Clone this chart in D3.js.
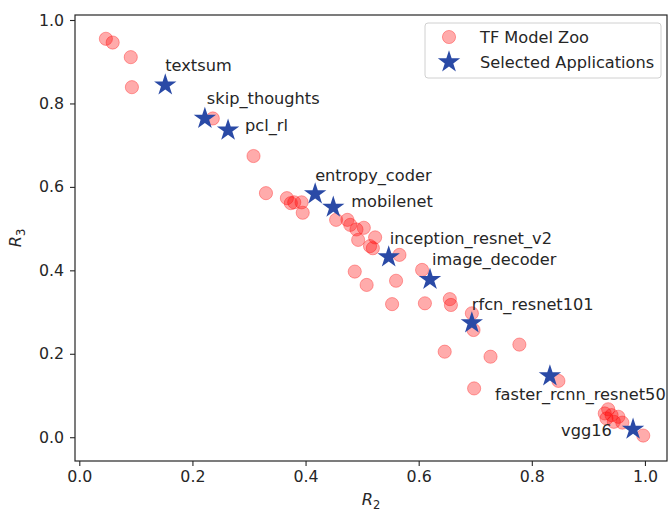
<!DOCTYPE html>
<html>
<head>
<meta charset="utf-8">
<script src="https://cdn.jsdelivr.net/npm/d3@7"></script>
<style>
  html, body { margin: 0; padding: 0; background: #fff; }
  svg { display: block; font-family: "DejaVu Sans", sans-serif; }
</style>
</head>
<body>
<svg id="chart" width="670" height="513"></svg>
<script>
// TF Model Zoo points (R2, R3)
var zooR2 = [0.047, 0.059, 0.091, 0.093, 0.236, 0.308, 0.330, 0.367, 0.374, 0.380, 0.393, 0.395,
  0.454, 0.474, 0.479, 0.490, 0.503, 0.493, 0.523, 0.514, 0.519, 0.566, 0.487, 0.508, 0.560,
  0.606, 0.553, 0.611, 0.655, 0.657, 0.694, 0.697, 0.646, 0.727, 0.778, 0.698, 0.847,
  0.935, 0.929, 0.941, 0.953, 0.932, 0.945, 0.960, 0.997];
var zooR3 = [0.955, 0.946, 0.911, 0.839, 0.764, 0.674, 0.585, 0.573, 0.561, 0.563, 0.563, 0.538,
  0.521, 0.521, 0.509, 0.498, 0.502, 0.473, 0.479, 0.458, 0.453, 0.437, 0.397, 0.365, 0.375,
  0.401, 0.319, 0.321, 0.331, 0.317, 0.297, 0.257, 0.205, 0.193, 0.222, 0.117, 0.135,
  0.067, 0.057, 0.053, 0.049, 0.045, 0.037, 0.035, 0.004];

// selected applications
var appNames = ['textsum', 'skip_thoughts', 'pcl_rl', 'entropy_coder', 'mobilenet',
  'inception_resnet_v2', 'image_decoder', 'rfcn_resnet101', 'faster_rcnn_resnet50', 'vgg16'];
var appR2 = [0.152, 0.222, 0.263, 0.417, 0.449, 0.547, 0.620, 0.694, 0.832, 0.979];
var appR3 = [0.844, 0.764, 0.736, 0.583, 0.551, 0.432, 0.378, 0.274, 0.147, 0.019];

var xTicks = [0.0, 0.2, 0.4, 0.6, 0.8, 1.0];
var yTicks = [0.0, 0.2, 0.4, 0.6, 0.8, 1.0];

// annotation offsets in px from the star (text start, baseline)
var labelOffset = {
  textsum: [0, -14], skip_thoughts: [2, -14], pcl_rl: [17, 1], entropy_coder: [0, -13],
  mobilenet: [18, 0], inception_resnet_v2: [1, -13], image_decoder: [2, -15],
  rfcn_resnet101: [0, -13], faster_rcnn_resnet50: [-55, 24], vgg16: [-72, 7]
};

var W = 670, H = 513;
var L = 75, R = 667, T = 15, B = 461;
var FS = 16.2, TXT = '#262626', AX = '#262626';
var RED = '#ff0000', BLUE = '#2a4aa6';

var svg = d3.select('#chart');
var x = d3.scaleLinear().domain([-0.0076, 1.039]).range([L, R]);
var y = d3.scaleLinear().domain([-0.057, 1.012]).range([B, T]);

// axes
var xa = svg.append('g').attr('transform', 'translate(0,' + B + ')')
  .call(d3.axisBottom(x).tickValues(xTicks).tickFormat(d3.format('.1f')).tickSizeOuter(0).tickSize(5).tickPadding(5));
var ya = svg.append('g').attr('transform', 'translate(' + L + ',0)')
  .call(d3.axisLeft(y).tickValues(yTicks).tickFormat(d3.format('.1f')).tickSizeOuter(0).tickSize(5).tickPadding(6));
[xa, ya].forEach(function (a) {
  a.select('.domain').remove();
  a.selectAll('line').attr('stroke', AX).attr('stroke-width', 1.1);
  a.selectAll('text').attr('fill', TXT).style('font-size', '15.8px').style('font-family', '"DejaVu Sans", sans-serif');
});

// frame
svg.append('rect').attr('x', L).attr('y', T).attr('width', R - L).attr('height', B - T)
  .attr('fill', 'none').attr('stroke', AX).attr('stroke-width', 1.2);

// model zoo circles
var plot = svg.append('g');
plot.selectAll('circle').data(d3.range(zooR2.length)).join('circle')
  .attr('cx', function (i) { return x(zooR2[i]); })
  .attr('cy', function (i) { return y(zooR3[i]); })
  .attr('r', 6.6)
  .attr('fill', RED).attr('fill-opacity', 0.33)
  .attr('stroke', RED).attr('stroke-opacity', 0.33).attr('stroke-width', 1);

// stars
var star = d3.symbol().type(d3.symbolStar).size(155);
plot.selectAll('path.app').data(d3.range(appNames.length)).join('path')
  .attr('class', 'app')
  .attr('d', star)
  .attr('transform', function (i) { return 'translate(' + x(appR2[i]) + ',' + y(appR3[i]) + ')'; })
  .attr('fill', BLUE);

// annotations
svg.append('g').selectAll('text').data(d3.range(appNames.length)).join('text')
  .attr('x', function (i) { return x(appR2[i]) + labelOffset[appNames[i]][0]; })
  .attr('y', function (i) { return y(appR3[i]) + labelOffset[appNames[i]][1]; })
  .attr('fill', TXT).style('font-size', FS + 'px')
  .text(function (i) { return appNames[i]; });

// axis labels
var xl = svg.append('text').attr('x', (L + R) / 2).attr('y', 505).attr('text-anchor', 'middle')
  .attr('fill', TXT).style('font-size', FS + 'px');
xl.append('tspan').style('font-style', 'italic').text('R');
xl.append('tspan').attr('dy', 4).style('font-size', '11.5px').text('2');
var yl = svg.append('text').attr('transform', 'translate(21,' + ((T + B) / 2) + ') rotate(-90)')
  .attr('text-anchor', 'middle').attr('fill', TXT).style('font-size', FS + 'px');
yl.append('tspan').style('font-style', 'italic').text('R');
yl.append('tspan').attr('dy', 4).style('font-size', '11.5px').text('3');

// legend
var lg = svg.append('g');
lg.append('rect').attr('x', 425).attr('y', 23).attr('width', 236).attr('height', 55).attr('rx', 3)
  .attr('fill', '#fff').attr('fill-opacity', 0.8).attr('stroke', '#d0d0d0').attr('stroke-width', 1);
lg.append('circle').attr('cx', 449).attr('cy', 37).attr('r', 6.6)
  .attr('fill', RED).attr('fill-opacity', 0.33).attr('stroke', RED).attr('stroke-opacity', 0.33);
lg.append('path').attr('d', star).attr('transform', 'translate(449,62)').attr('fill', BLUE);
lg.append('text').attr('x', 480).attr('y', 42.5).attr('fill', TXT).style('font-size', FS + 'px').text('TF Model Zoo');
lg.append('text').attr('x', 480).attr('y', 67.5).attr('fill', TXT).style('font-size', FS + 'px').text('Selected Applications');
</script>
</body>
</html>
